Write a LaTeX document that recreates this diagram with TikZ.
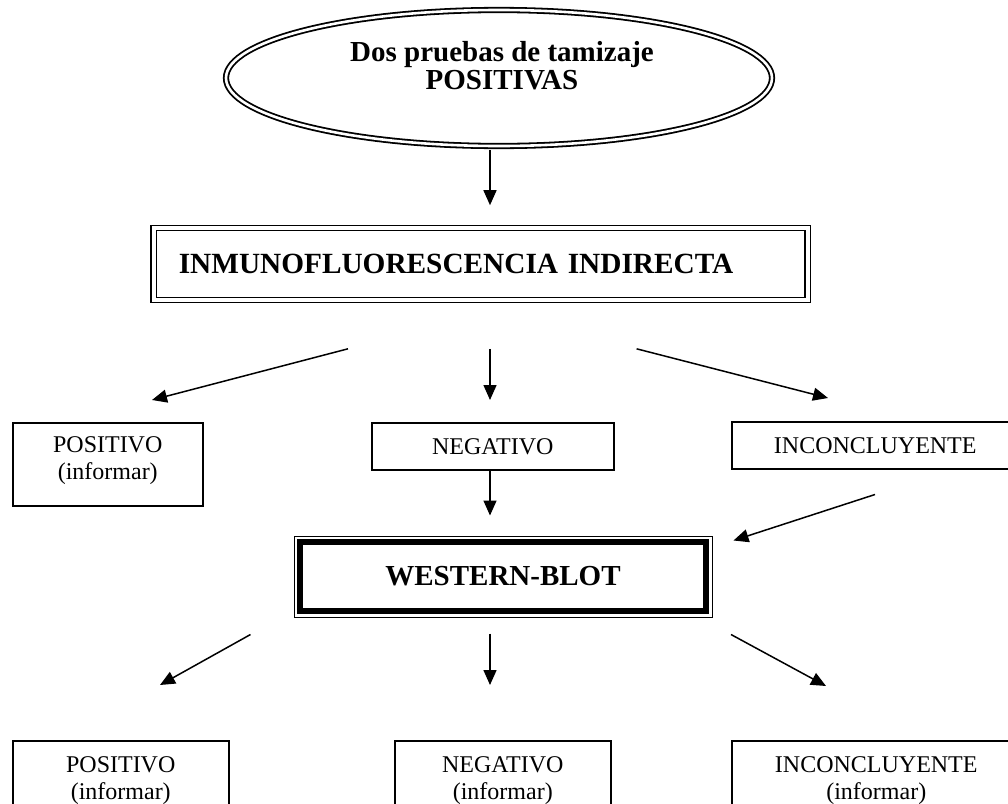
\documentclass[tikz,border=0pt]{standalone}
\usepackage{fontspec}
\setmainfont{Liberation Serif}
\usetikzlibrary{positioning,arrows.meta,shapes.geometric,calc}

\begin{document}
\begin{tikzpicture}[
x=1pt,y=-1pt,
box/.style={rectangle,draw,line width=1.5pt,inner sep=0pt,align=center,font=\fontsize{24}{27}\selectfont},
bigbox/.style={rectangle,draw,line width=1.6pt,double,double distance=3.5pt,inner sep=0pt},
txt/.style={align=center,inner sep=0pt,font=\fontsize{24}{27}\selectfont},
bold/.style={align=center,inner sep=0pt,font=\fontsize{29}{28}\selectfont\bfseries},
arrow/.style={-{Triangle[length=15pt,width=13pt]},line width=1.5pt}
]
\useasboundingbox (0,0) rectangle (1008,803);
\coordinate (mid) at (490,0);
% top: screening tests
\node[ellipse,draw,line width=1.8pt,double,double distance=2.6pt,minimum width=546pt,minimum height=136pt] (tam) at (499,78) {};
\node[bold] (tamt) at (502,66) {Dos pruebas de tamizaje\\POSITIVAS};
\node[bigbox,anchor=west,text width=604pt,inner xsep=25pt,minimum height=72pt,align=left,font=\fontsize{29.3}{30}\selectfont\bfseries] (ifi) at (153,264) {INMUNOFLUORESCENCIA INDIRECTA};
% first results
\node[box,minimum width=190pt,minimum height=83pt,anchor=north west] (pos1) at (12,422) {};
\node[txt,below=14pt of pos1.north] (pos1t) {POSITIVO\\(informar)};
\node[box,minimum width=242pt,minimum height=47pt,anchor=north west] (neg1) at (371,422) {NEGATIVO};
\node[box,minimum width=287pt,minimum height=47pt,anchor=north west] (inc1) at (731,421) {INCONCLUYENTE};
% western blot
\node[box,line width=1pt,minimum width=418pt,minimum height=81pt,anchor=north west,font=\fontsize{29}{30}\selectfont\bfseries] (wb) at (293.5,535.5) {WESTERN-BLOT};
\draw[line width=6pt] ($(wb.north west)+(6.5,6.5)$) rectangle ($(wb.south east)+(-6.5,-6.5)$);
% final results
\node[box,minimum width=216pt,minimum height=80pt,anchor=north west] (pos2) at (12,740) {};
\node[txt,below=16pt of pos2.north] (pos2t) {POSITIVO\\(informar)};
\node[box,minimum width=216pt,minimum height=80pt,anchor=north west] (neg2) at (394,740) {};
\node[txt,below=16pt of neg2.north] (neg2t) {NEGATIVO\\(informar)};
\node[box,minimum width=287pt,minimum height=80pt,anchor=north west] (inc2) at (731,740) {};
\node[txt,below=16pt of inc2.north,xshift=1pt] (inc2t) {INCONCLUYENTE\\(informar)};
% arrows
\draw[arrow] ($(tam.south -| mid)+(0,3)$) -- ($(ifi.north -| mid)+(0,-22)$);
\draw[arrow] ($(ifi.south west)+(195,48)$) -- ($(pos1.north west)+(140,-22)$);
\draw[arrow] ($(ifi.south -| mid)+(0,48)$) -- ($(neg1.north -| mid)+(0,-22)$);
\draw[arrow] ($(ifi.south east)+(-172,48)$) -- ($(inc1.north west)+(97,-23)$);
\draw[arrow] (neg1.south -| mid) -- ($(wb.north -| mid)+(0,-20)$);
\draw[arrow] ($(inc1.south west)+(144,25)$) -- ($(wb.north east)+(21,5)$);
\draw[arrow] ($(wb.south west)+(-43,17)$) -- ($(pos2.north west)+(148,-55)$);
\draw[arrow] ($(wb.south -| mid)+(0,16)$) -- ($(neg2.north -| mid)+(0,-55)$);
\draw[arrow] ($(wb.south east)+(18.5,17)$) -- ($(inc2.north west)+(95,-54)$);
\end{tikzpicture}
\end{document}
